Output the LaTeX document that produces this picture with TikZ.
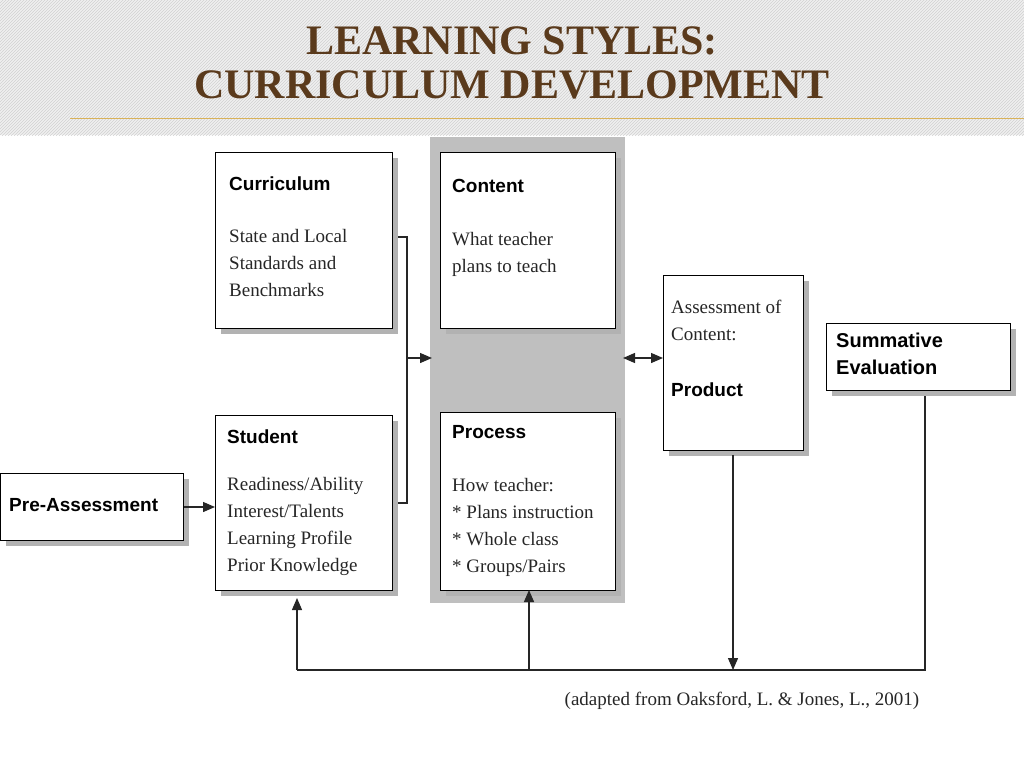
\documentclass[tikz,border=0pt]{standalone}
\usepackage{fontspec}
\setmainfont{Liberation Serif}
\newfontfamily\hd{Liberation Sans}
\usetikzlibrary{shadows,patterns,arrows.meta}
\definecolor{ttl}{HTML}{5A3A1C}
\definecolor{gold}{HTML}{D9B25A}
\tikzset{
 box/.style={draw=black,line width=1.2pt,fill=white,anchor=north west,inner sep=0pt,
   drop shadow={shadow xshift=5pt,shadow yshift=-5pt,fill=black!30,opacity=1}},
 hd/.style={anchor=north west,font=\hd\bfseries\fontsize{19}{22}\selectfont,inner sep=0pt},
 bd/.style={anchor=north west,align=left,font=\fontsize{19}{27}\selectfont,inner sep=0pt,text=black!85},
 ln/.style={line width=1.3pt,draw=black!85},
 tip/.style={Triangle[length=12pt,width=10pt]},
 ar/.style={ln,-{Triangle[length=12pt,width=10pt]}},
}
\begin{document}
\begin{tikzpicture}[x=1pt,y=-1pt]
\useasboundingbox (0,0) rectangle (1024,768);
\fill[black!6] (0,0) rectangle (1024,135);
\fill[pattern=north east lines,pattern color=black!18] (0,0) rectangle (1024,135);
\draw[gold,line width=1pt] (70,118) -- (1024,118);
\node[font=\bfseries\fontsize{42}{44}\selectfont,text=ttl,align=center] (t) at (512,63) {LEARNING STYLES:\\CURRICULUM DEVELOPMENT};
\fill[black!25] (430,137) rectangle (625,603);
\node[box,minimum width=177pt,minimum height=176pt] (cur) at (215,152) {};
\node[box,minimum width=175pt,minimum height=176pt] (con) at (440,152) {};
\node[box,minimum width=177pt,minimum height=175pt] (stu) at (215,415) {};
\node[box,minimum width=175pt,minimum height=178pt] (pro) at (440,412) {};
\node[box,minimum width=183pt,minimum height=67pt] (pre) at (0,473) {};
\node[box,minimum width=140pt,minimum height=175pt] (ass) at (663,275) {};
\node[box,minimum width=184pt,minimum height=67pt] (sum) at (826,323) {};
\node[hd] (h1) at (229,177) {Curriculum};
\node[bd] (b1) at (229,229) {State and Local\\Standards and\\Benchmarks};
\node[hd] (h2) at (452,179) {Content};
\node[bd] (b2) at (452,232) {What teacher\\plans to teach};
\node[hd] (h3) at (227,430) {Student};
\node[bd] (b3) at (227,477) {Readiness/Ability\\Interest/Talents\\Learning Profile\\Prior Knowledge};
\node[hd] (h4) at (452,425) {Process};
\node[bd] (b4) at (452,478) {How teacher:\\* Plans instruction\\* Whole class\\* Groups/Pairs};
\node[hd] (h5) at (9,498) {Pre-Assessment};
\node[bd] (b5) at (671,300) {Assessment of\\Content:};
\node[hd] (h6) at (671,383) {Product};
\node[hd,align=left,font=\hd\bfseries\fontsize{20}{27}\selectfont] (h7) at (836,333) {Summative\\Evaluation};
\node[font=\fontsize{19}{22}\selectfont,text=black!85] (cite) at (742,701) {(adapted from Oaksford, L. \& Jones, L., 2001)};
\coordinate (j1) at (407,237);
\coordinate (j2) at (407,503);
\coordinate (j3) at (407,358);
\draw[ln] (cur.east |- j1) ++(5,0) -- (j1) -- (j2) -- ([xshift=5pt]stu.east |- j2);
\draw[ar] (j3) -- (432,358);
\draw[ln,{Triangle[length=12pt,width=10pt]}-{Triangle[length=12pt,width=10pt]}] (623,358) -- (ass.west |- 0,358);
\draw[ar] (pre.east |- 0,507) -- (stu.west |- 0,507);
\coordinate (fb1) at (925,670);
\coordinate (fb2) at (297,670);
\draw[ln] ([xshift=-10pt]sum.south -| 935,0) ++(0,5) -- (fb1) -- (fb2);
\draw[ar] (fb2) -- (297,598);
\draw[ar] (529,670) -- (529,590);
\draw[ar] (733,455) -- (733,670);
\end{tikzpicture}
\end{document}
